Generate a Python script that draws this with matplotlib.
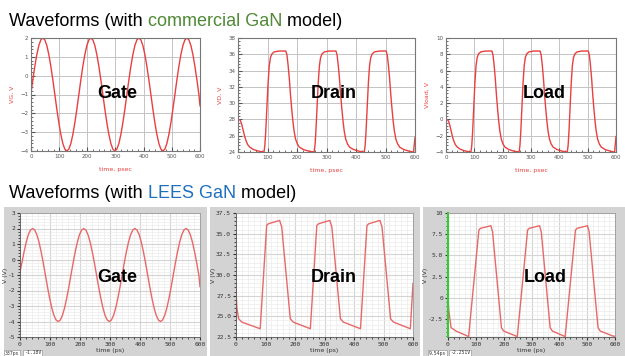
import matplotlib
matplotlib.use("Agg")
import matplotlib.pyplot as plt
from matplotlib.ticker import MultipleLocator, FixedLocator
from matplotlib.patches import Rectangle

# ---- data ----
# gate waveforms, sampled every ~7 ps (both models share the time grid)
gate_t = [0, 6.5, 13.6, 20.7, 27.8, 34.9, 42.0, 49.1, 56.2, 63.3, 70.4, 77.5,
          84.6, 91.7, 98.8, 105.9, 113.0, 120.1, 127.2, 134.4, 141.5, 148.6,
          155.7, 162.8, 169.9, 177.0, 184.1, 191.2, 198.3, 205.4, 212.5, 219.6,
          226.7, 233.8, 240.9, 248.0, 255.1, 262.2, 269.3, 276.4, 283.5, 290.6,
          297.7, 304.8, 312.0, 319.1, 326.2, 333.3, 340.4, 347.5, 354.6, 361.7,
          368.8, 375.9, 383.0, 390.1, 397.2, 404.3, 411.4, 418.5, 425.6, 432.7,
          439.8, 446.9, 454.0, 461.1, 468.2, 475.3, 482.4, 489.6, 496.7, 503.8,
          510.9, 518.0, 525.1, 532.2, 539.3, 546.4, 553.5, 560.6, 567.7, 574.8,
          581.9, 589.0, 596.1, 600]
gate_top_v = [-0.93, -0.22, 0.5, 1.12, 1.6, 1.9, 2.0, 1.9, 1.6, 1.12, 0.5, -0.22,
              -1.0, -1.78, -2.5, -3.12, -3.6, -3.9, -4.0, -3.9, -3.6, -3.12, -2.5, -1.78,
              -1.0, -0.22, 0.5, 1.12, 1.6, 1.9, 2.0, 1.9, 1.6, 1.12, 0.5, -0.22,
              -1.0, -1.78, -2.5, -3.12, -3.6, -3.9, -4.0, -3.9, -3.6, -3.12, -2.5, -1.78,
              -1.0, -0.22, 0.5, 1.12, 1.6, 1.9, 2.0, 1.9, 1.6, 1.12, 0.5, -0.22,
              -1.0, -1.78, -2.5, -3.12, -3.6, -3.9, -4.0, -3.9, -3.6, -3.12, -2.5, -1.78,
              -1.0, -0.22, 0.5, 1.12, 1.6, 1.9, 2.0, 1.9, 1.6, 1.12, 0.5, -0.22,
              -1.0, -1.6]
gate_bot_v = [-0.8, -0.2, 0.5, 1.12, 1.6, 1.9, 2.0, 1.9, 1.6, 1.12, 0.5, -0.22,
              -1.0, -1.78, -2.5, -3.12, -3.6, -3.9, -4.0, -3.9, -3.6, -3.12, -2.5, -1.78,
              -1.0, -0.22, 0.5, 1.12, 1.6, 1.9, 2.0, 1.9, 1.6, 1.12, 0.5, -0.22,
              -1.0, -1.78, -2.5, -3.12, -3.6, -3.9, -4.0, -3.9, -3.6, -3.12, -2.5, -1.78,
              -1.0, -0.22, 0.5, 1.12, 1.6, 1.9, 2.0, 1.9, 1.6, 1.12, 0.5, -0.22,
              -1.0, -1.78, -2.5, -3.12, -3.6, -3.9, -4.0, -3.9, -3.6, -3.12, -2.5, -1.78,
              -1.0, -0.22, 0.5, 1.12, 1.6, 1.9, 2.0, 1.9, 1.6, 1.12, 0.5, -0.22,
              -1.0, -1.75]

# commercial GaN model: drain and load (same time grid)
drain_top_t = [0, 6, 10, 14, 18, 22, 27, 33, 40, 50, 65, 78,
               88, 91, 94, 98, 102, 106, 110, 115, 123, 140, 162, 166, 170, 174,
               178, 182, 186, 190, 195, 201, 208, 222, 240,
               258, 261, 264, 268, 272, 276, 280, 285, 293, 310, 332, 336, 340, 344,
               348, 352, 356, 360, 365, 371, 378, 392, 410,
               428, 431, 434, 438, 442, 446, 450, 455, 463, 480, 502, 506, 510, 514,
               518, 522, 526, 530, 535, 541, 548, 562, 580, 595, 600]
drain_top_v = [28.0, 27.95, 27.7, 27.2, 26.6, 26.0, 25.4, 24.9, 24.6, 24.35, 24.15, 24.05,
               24.0, 24.8, 26.5, 29.5, 32.5, 34.6, 35.6, 36.05, 36.3, 36.4, 36.4, 35.9,
               34.6, 33.0, 31.0, 29.3, 27.8, 26.6, 25.6, 25.0, 24.6, 24.3, 24.1,
               24.0, 24.8, 26.5, 29.5, 32.5, 34.6, 35.6, 36.05, 36.3, 36.4, 36.4, 35.9,
               34.6, 33.0, 31.0, 29.3, 27.8, 26.6, 25.6, 25.0, 24.6, 24.3, 24.1,
               24.0, 24.8, 26.5, 29.5, 32.5, 34.6, 35.6, 36.05, 36.3, 36.4, 36.4, 35.9,
               34.6, 33.0, 31.0, 29.3, 27.8, 26.6, 25.6, 25.0, 24.6, 24.3, 24.1, 24.0, 25.8]
load_top_t = drain_top_t
load_top_v = [0.0, -0.05, -0.3, -0.8, -1.4, -2.0, -2.6, -3.1, -3.4, -3.65, -3.85, -3.95,
              -4.0, -3.2, -1.5, 1.5, 4.5, 6.6, 7.6, 8.05, 8.3, 8.4, 8.4, 7.9,
              6.6, 5.0, 3.0, 1.3, -0.2, -1.4, -2.4, -3.0, -3.4, -3.7, -3.9,
              -4.0, -3.2, -1.5, 1.5, 4.5, 6.6, 7.6, 8.05, 8.3, 8.4, 8.4, 7.9,
              6.6, 5.0, 3.0, 1.3, -0.2, -1.4, -2.4, -3.0, -3.4, -3.7, -3.9,
              -4.0, -3.2, -1.5, 1.5, 4.5, 6.6, 7.6, 8.05, 8.3, 8.4, 8.4, 7.9,
              6.6, 5.0, 3.0, 1.3, -0.2, -1.4, -2.4, -3.0, -3.4, -3.7, -3.9, -4.0, -2.1]

# LEES GaN model: drain and load
drain_bot_t = [0, 3, 9, 20,
               82, 104, 110, 148, 155, 184, 194,
               252, 274, 280, 318, 325, 354, 364,
               422, 444, 450, 488, 495, 524, 534,
               591, 600]
drain_bot_v = [28.2, 26.0, 24.7, 24.3,
               23.5, 36.0, 36.2, 36.6, 35.8, 24.7, 24.3,
               23.5, 36.0, 36.2, 36.6, 35.8, 24.7, 24.3,
               23.5, 36.0, 36.2, 36.6, 35.8, 24.7, 24.3,
               23.5, 29.0]
load_bot_t = [0, 3, 11, 29,
              74, 111, 117, 154, 160, 192, 200,
              249, 286, 292, 329, 335, 367, 375,
              421, 458, 464, 501, 507, 539, 547,
              594, 600]
load_bot_v = [0.1, -1.5, -3.5, -3.9,
              -4.55, 8.0, 8.2, 8.5, 7.8, -3.5, -3.9,
              -4.55, 8.0, 8.2, 8.5, 7.8, -3.5, -3.9,
              -4.55, 8.0, 8.2, 8.5, 7.8, -3.5, -3.9,
              -4.5, -4.5]

W, H = 625, 356
fig = plt.figure(figsize=(W / 100, H / 100), dpi=100)
fig.patch.set_facecolor("white")


def px_axes(l, t, r, b):
    return fig.add_axes([l / W, 1 - b / H, (r - l) / W, (b - t) / H])


def colored_title(x, y, parts):
    renderer = fig.canvas.get_renderer()
    for s, c in parts:
        txt = fig.text(x / W, 1 - y / H, s, color=c, fontsize=13,
                       family="Liberation Sans", va="baseline", ha="left")
        x += txt.get_window_extent(renderer).width


RED = "#e8403f"
PINK = "#e86868"


def top_panel(box, t, v, ylim, ystep, ylabel, name, namepos):
    ax = px_axes(*box)
    ax.plot(t, v, color=RED, lw=1.0)
    ax.set_xlim(0, 600)
    ax.set_ylim(*ylim)
    ax.xaxis.set_major_locator(MultipleLocator(100))
    ax.xaxis.set_minor_locator(MultipleLocator(20))
    ax.yaxis.set_major_locator(MultipleLocator(ystep))
    ax.yaxis.set_minor_locator(MultipleLocator(ystep / 5))
    ax.grid(True, which="major", color="#c4c4c4", lw=0.7)
    ax.tick_params(which="both", direction="in", labelsize=4,
                   colors="#555555", pad=2)
    ax.tick_params(which="major", length=3)
    ax.tick_params(which="minor", length=1.5)
    for s in ax.spines.values():
        s.set_color("#777777")
        s.set_linewidth(0.8)
    ax.set_xlabel("time, psec", color=RED, fontsize=4.5, labelpad=6)
    ax.set_ylabel(ylabel, color=RED, fontsize=4.5, labelpad=4)
    ax.text(namepos[0], namepos[1], name, transform=ax.transAxes,
            fontsize=13, fontweight="bold", family="Liberation Sans",
            ha="center", va="center")
    return ax


def bottom_panel(box, t, v, ylim, yticks, yticklabels, name, namepos):
    ax = px_axes(*box)
    ax.plot(t, v, color=PINK, lw=1.0)
    ax.set_xlim(0, 600)
    ax.set_ylim(*ylim)
    ax.xaxis.set_major_locator(MultipleLocator(100))
    ax.xaxis.set_minor_locator(MultipleLocator(20))
    ax.yaxis.set_major_locator(FixedLocator(yticks))
    ax.set_yticklabels(yticklabels)
    step = yticks[1] - yticks[0]
    ax.yaxis.set_minor_locator(MultipleLocator(step / 5))
    ax.grid(True, which="minor", color="#ececec", lw=0.5)
    ax.grid(True, which="major", color="#d4d4d4", lw=0.8)
    ax.set_axisbelow(True)
    ax.tick_params(which="both", direction="out", labelsize=4.5,
                   colors="#333333", pad=1)
    ax.tick_params(which="major", length=2.5)
    ax.tick_params(which="minor", length=1.2)
    for lab in ax.get_xticklabels() + ax.get_yticklabels():
        lab.set_family("DejaVu Sans Mono")
    for s in ax.spines.values():
        s.set_color("#9a9a9a")
        s.set_linewidth(0.6)
    ax.spines["left"].set_color("#555555")
    ax.spines["bottom"].set_color("#555555")
    ax.set_xlabel("time (ps)", fontsize=4.5, labelpad=0.5, color="#333333")
    ax.set_ylabel("V (V)", fontsize=4.5, labelpad=0, color="#333333")
    ax.text(namepos[0], namepos[1], name, transform=ax.transAxes,
            fontsize=13, fontweight="bold", family="Liberation Sans",
            ha="center", va="center")
    return ax


# gray frames behind the bottom row
for l, r in [(4, 207), (210, 420), (423, 625)]:
    fig.patches.append(Rectangle((l / W, 0), (r - l) / W, 149 / H,
                                 transform=fig.transFigure,
                                 facecolor="#d3d3d3", edgecolor="none",
                                 zorder=-1))

colored_title(9, 26, [("Waveforms (with ", "black"),
                      ("commercial GaN", "#4f8a35"),
                      (" model)", "black")])
colored_title(9, 198, [("Waveforms (with ", "black"),
                       ("LEES GaN", "#1f6fbf"),
                       (" model)", "black")])

top_panel((31, 38, 200, 151), gate_t, gate_top_v, (-4, 2), 1,
          "VG, V", "Gate", (0.51, 0.51))
top_panel((238, 38, 415, 152), drain_top_t, drain_top_v, (24, 38), 2,
          "VD, V", "Drain", (0.54, 0.51))
top_panel((446, 38, 616, 152), load_top_t, load_top_v, (-4, 10), 2,
          "Vload, V", "Load", (0.58, 0.51))

bottom_panel((20, 213, 200, 337), gate_t, gate_bot_v, (-5, 3),
             [-5, -4, -3, -2, -1, 0, 1, 2, 3],
             ["-5", "-4", "-3", "-2", "-1", "0", "1", "2", "3"],
             "Gate", (0.54, 0.48))
bottom_panel((236, 213, 413, 337), drain_bot_t, drain_bot_v, (22.5, 37.5),
             [22.5, 25, 27.5, 30, 32.5, 35, 37.5],
             ["22.5", "25.0", "27.5", "30.0", "32.5", "35.0", "37.5"],
             "Drain", (0.55, 0.48))
axl = bottom_panel((448, 213, 615, 337), load_bot_t, load_bot_v, (-4.6, 10),
                   [-2.5, 0, 2.5, 5, 7.5, 10],
                   ["-2.5", "0", "2.5", "5.0", "7.5", "10"],
                   "Load", (0.58, 0.48))
axl.spines["left"].set_color("#33cc33")
axl.spines["left"].set_linewidth(1.5)

# cursor read-outs under the bottom plots
for x, s in [(5, "337ps"), (24, "-1.18V"), (429, "9.54ps"), (450, "-2.251V")]:
    fig.text(x / W, 1 - 353 / H, s, fontsize=3.5, family="DejaVu Sans Mono",
             va="center", ha="left", color="#333333",
             bbox=dict(boxstyle="square,pad=0.15", facecolor="white",
                       edgecolor="#888888", lw=0.4))

fig.savefig("out.png", dpi=100)
